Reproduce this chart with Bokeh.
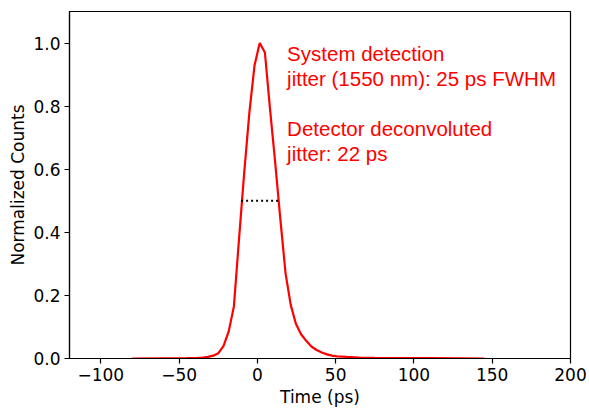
from bokeh.plotting import figure
from bokeh.models import Label, FixedTicker, PrintfTickFormatter, Range1d
from bokeh.embed import file_html
from bokeh.resources import INLINE

# Data
time_ps = [-80, -60, -45, -38.1, -34.8, -31.5, -28.2, -24.9, -21.6, -18.3, -15.0,
           -11.7, -8.4, -5.1, -1.8, 1.5, 4.8, 8.1, 11.4, 14.7, 18.0, 21.3, 24.6,
           27.9, 31.2, 34.5, 37.8, 41.1, 44.4, 47.7, 51.0, 57, 65, 75, 90, 110, 130, 145]
counts = [0.0, 0.0005, 0.001, 0.002, 0.003, 0.005, 0.009, 0.017, 0.040, 0.086, 0.165,
          0.38, 0.59, 0.78, 0.93, 1.0, 0.97, 0.79, 0.62, 0.44, 0.27, 0.17, 0.11,
          0.077, 0.056, 0.038, 0.027, 0.019, 0.013, 0.009, 0.007, 0.005, 0.003, 0.002,
          0.001, 0.001, 0.0005, 0.0]
fwhm_x = [-10.4, 14.2]
fwhm_y = [0.5, 0.5]
x_ticks = [-100, -50, 0, 50, 100, 150, 200]
y_ticks = [0.0, 0.2, 0.4, 0.6, 0.8, 1.0]
annotation_lines = ["System detection", "jitter (1550 nm): 25 ps FWHM", "",
                    "Detector deconvoluted", "jitter: 22 ps"]

RED = "#ff0000"

p = figure(width=589, height=409, output_backend="svg", toolbar_location=None,
           x_range=Range1d(-120, 200), y_range=Range1d(0, 1.1),
           min_border_left=69, min_border_right=19, min_border_top=11, min_border_bottom=49)
p.background_fill_color = "white"
p.border_fill_color = "white"
p.grid.visible = False
p.outline_line_color = "black"
p.outline_line_width = 1.2

p.line(time_ps, counts, line_color=RED, line_width=2.2)
p.line(fwhm_x, fwhm_y, line_color="black", line_width=2, line_dash="2 3")

for ax in (p.xaxis[0], p.yaxis[0]):
    ax.axis_line_color = "black"
    ax.axis_line_width = 1.2
    ax.major_tick_line_color = "black"
    ax.major_tick_line_width = 1.2
    ax.major_tick_out = 5
    ax.major_tick_in = 0
    ax.minor_tick_line_color = None
    ax.major_label_text_font = "DejaVu Sans"
    ax.major_label_text_font_size = "17px"
    ax.major_label_text_color = "black"
    ax.axis_label_text_font = "DejaVu Sans"
    ax.axis_label_text_font_size = "17px"
    ax.axis_label_text_font_style = "normal"
    ax.axis_label_text_color = "black"

p.xaxis.ticker = FixedTicker(ticks=x_ticks)
p.xaxis.major_label_overrides = {t: (("\u2212" + str(abs(t))) if t < 0 else str(t)) for t in x_ticks}
p.xaxis.axis_label = "Time (ps)"
p.xaxis.major_label_standoff = 4
p.xaxis.axis_label_standoff = 3

p.yaxis.ticker = FixedTicker(ticks=y_ticks)
p.yaxis.formatter = PrintfTickFormatter(format="%.1f")
p.yaxis.axis_label = "Normalized Counts"
p.yaxis.major_label_standoff = 4
p.yaxis.axis_label_standoff = 2

# annotation text, line by line
y0 = 0.967
dy = 0.0795
for i, line in enumerate(annotation_lines):
    if not line:
        continue
    p.add_layout(Label(x=19.0, y=y0 - i * dy, text=line, text_color=RED,
                       text_font="Liberation Sans", text_font_size="20.5px",
                       text_baseline="alphabetic", text_align="left"))

open("out.html", "w").write(file_html(p, INLINE))
